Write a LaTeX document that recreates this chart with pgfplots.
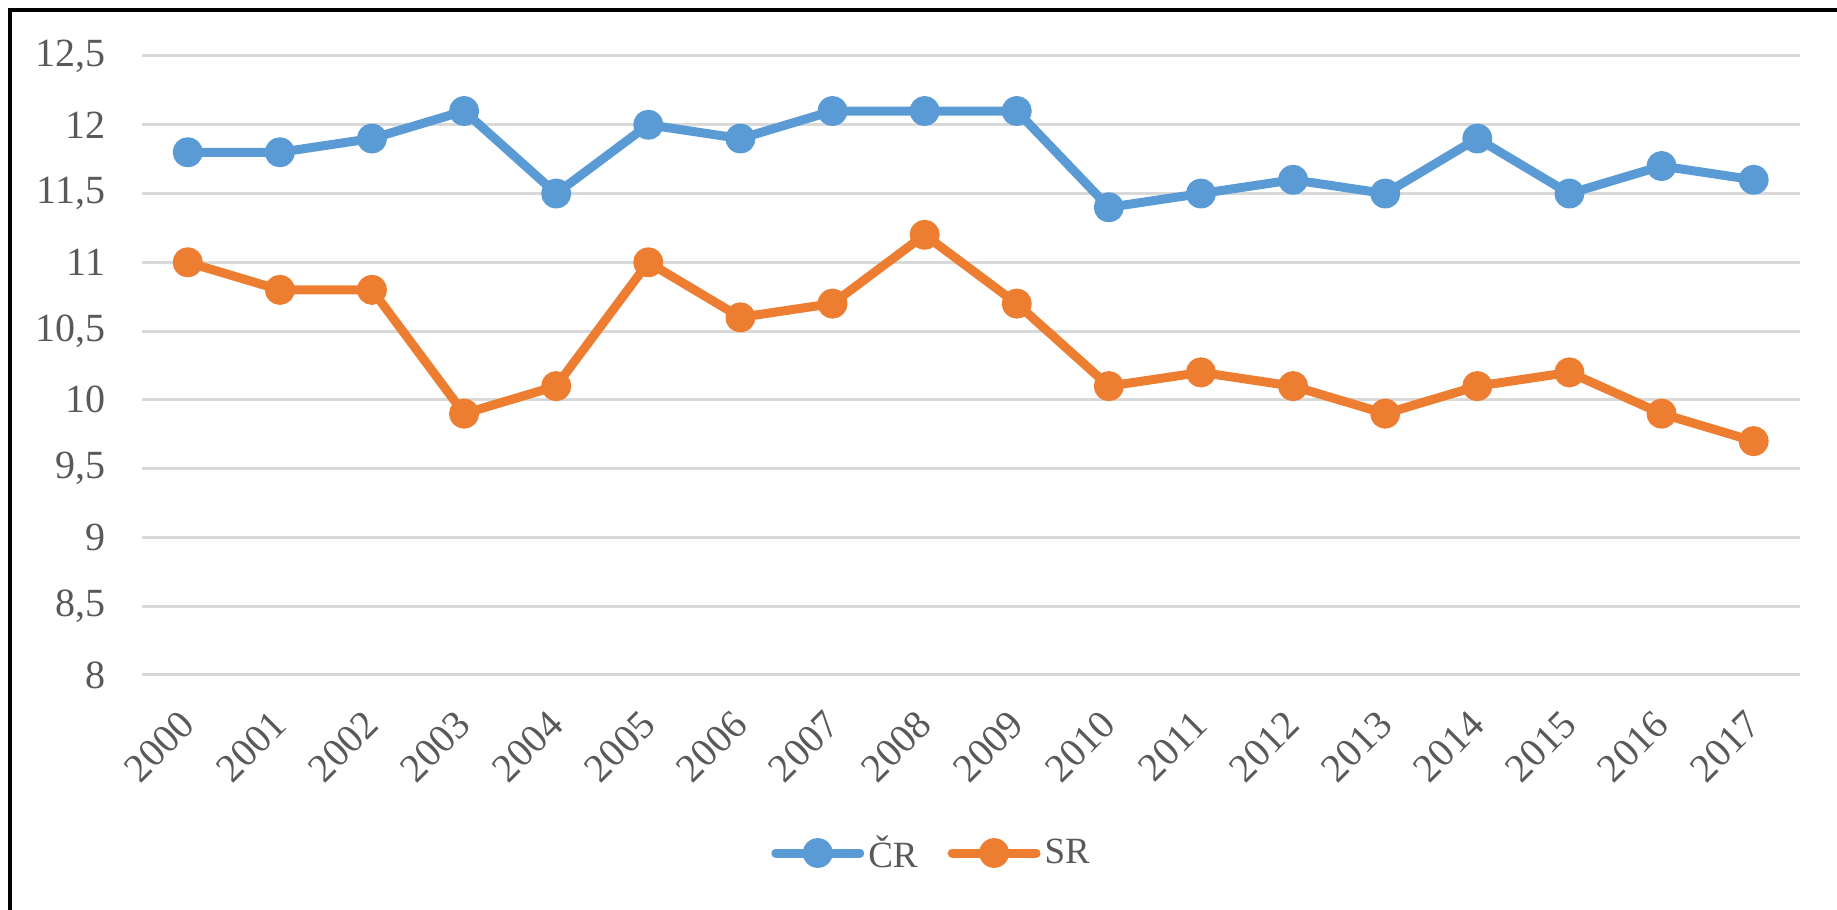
\documentclass[border=0pt]{standalone}
\usepackage{pgfplots}
\pgfplotsset{compat=1.18}
\usepackage{fontspec}
\setmainfont{Liberation Serif}
\definecolor{cblue}{HTML}{5B9BD5}
\definecolor{corange}{HTML}{ED7D31}
\definecolor{cgrid}{HTML}{D9D9D9}
\definecolor{ctext}{HTML}{595959}
\begin{document}
\begin{tikzpicture}[x=1pt,y=1pt]
\path[use as bounding box] (0,0) rectangle (918.5,455);
\draw[line width=2pt] (4.75,-20) -- (4.75,450) -- (940,450);
\begin{axis}[
  at={(70.85pt,117.5pt)}, anchor=south west,
  scale only axis, width=829pt, height=309.5pt,
  xmin=-0.5, xmax=17.5, ymin=8, ymax=12.5,
  ytick={8,8.5,9,9.5,10,10.5,11,11.5,12,12.5},
  xtick={0,...,17},
  xticklabels={2000,2001,2002,2003,2004,2005,2006,2007,2008,2009,2010,2011,2012,2013,2014,2015,2016,2017},
  /pgf/number format/use comma,
  /pgf/number format/assume math mode=true,
  axis line style={draw=none},
  major tick length=0pt,
  ymajorgrids, major grid style={cgrid, line width=1.5pt},
  tick label style={font=\fontsize{20}{24}\selectfont, text=ctext, inner sep=0pt},
  xticklabel shift=21.5pt,
  xticklabel style={rotate=45, anchor=east},
  yticklabel style={anchor=east, xshift=-18pt},
  legend style={at={(0.477,-0.2876)}, anchor=center, draw=none, fill=none,
    font=\fontsize{18.5}{22}\selectfont, text=ctext, inner sep=0pt,
    /tikz/every even column/.append style={column sep=13pt},
    cells={anchor=west}},
  legend columns=2,
  legend image code/.code={\draw[#1, mark repeat=2, mark phase=2] plot coordinates {(0pt,0pt) (21pt,0pt) (42pt,0pt)};},
  every axis plot/.append style={line width=4.5pt, line cap=round, line join=round, mark=*, mark size=5.25pt, mark options={solid}},
]
\addplot[cblue, mark options={fill=cblue, draw=cblue}] coordinates {
(0,11.8) (1,11.8) (2,11.9) (3,12.1) (4,11.5) (5,12.0) (6,11.9) (7,12.1) (8,12.1)
(9,12.1) (10,11.4) (11,11.5) (12,11.6) (13,11.5) (14,11.9) (15,11.5) (16,11.7) (17,11.6)};
\addlegendentry{ČR}
\addplot[corange, mark options={fill=corange, draw=corange}] coordinates {
(0,11.0) (1,10.8) (2,10.8) (3,9.9) (4,10.1) (5,11.0) (6,10.6) (7,10.7) (8,11.2)
(9,10.7) (10,10.1) (11,10.2) (12,10.1) (13,9.9) (14,10.1) (15,10.2) (16,9.9) (17,9.7)};
\addlegendentry{SR}
\end{axis}
\end{tikzpicture}
\end{document}
